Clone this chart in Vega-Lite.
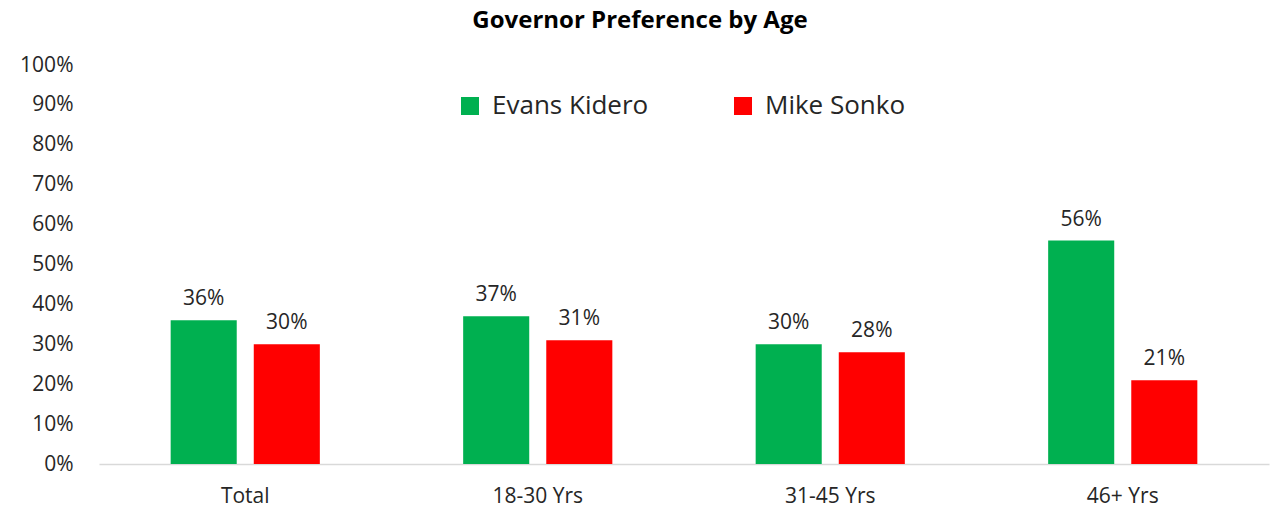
{
  "$schema": "https://vega.github.io/schema/vega-lite/v6.json",
  "autosize": "none",
  "width": 1170,
  "height": 399,
  "padding": {"left": 99, "top": 65, "right": 1, "bottom": 44},
  "background": "white",
  "config": {"view": {"stroke": null}, "font": "Open Sans"},
  "title": {
    "text": "Governor Preference by Age",
    "anchor": "middle",
    "frame": "group",
    "dx": -44,
    "fontSize": 24,
    "fontWeight": "bold",
    "font": "Open Sans",
    "color": "#000000",
    "offset": 21
  },
  "data": {
    "values": [
      {"age": "Total", "candidate": "Evans Kidero", "value": 0.36},
      {"age": "Total", "candidate": "Mike Sonko", "value": 0.30},
      {"age": "18-30 Yrs", "candidate": "Evans Kidero", "value": 0.37},
      {"age": "18-30 Yrs", "candidate": "Mike Sonko", "value": 0.31},
      {"age": "31-45 Yrs", "candidate": "Evans Kidero", "value": 0.30},
      {"age": "31-45 Yrs", "candidate": "Mike Sonko", "value": 0.28},
      {"age": "46+ Yrs", "candidate": "Evans Kidero", "value": 0.56},
      {"age": "46+ Yrs", "candidate": "Mike Sonko", "value": 0.21}
    ]
  },
  "encoding": {
    "x": {
      "field": "age",
      "type": "nominal",
      "sort": ["Total", "18-30 Yrs", "31-45 Yrs", "46+ Yrs"],
      "scale": {"paddingInner": 0.49, "paddingOuter": 0.245},
      "axis": {
        "title": null,
        "labelAngle": 0,
        "labelFontSize": 21,
        "labelColor": "#262626",
        "labelPadding": 21,
        "ticks": false,
        "domainColor": "#d9d9d9",
        "domainWidth": 1.5,
        "grid": false
      }
    },
    "xOffset": {
      "field": "candidate",
      "type": "nominal",
      "scale": {"paddingInner": 0.205, "paddingOuter": 0}
    },
    "y": {
      "field": "value",
      "type": "quantitative",
      "scale": {"domain": [0, 1], "nice": false},
      "axis": {
        "title": null,
        "format": ".0%",
        "values": [0, 0.1, 0.2, 0.3, 0.4, 0.5, 0.6, 0.7, 0.8, 0.9, 1],
        "labelFontSize": 21,
        "labelColor": "#262626",
        "labelPadding": 26,
        "ticks": false,
        "domain": false,
        "grid": false
      }
    }
  },
  "layer": [
    {
      "mark": {"type": "bar"},
      "encoding": {
        "color": {
          "field": "candidate",
          "type": "nominal",
          "scale": {"domain": ["Evans Kidero", "Mike Sonko"], "range": ["#00B050", "#FF0000"]},
          "legend": {
            "title": null,
            "orient": "none",
            "direction": "horizontal",
            "legendX": 358,
            "legendY": 28,
            "symbolType": "square",
            "symbolSize": 324,
            "symbolStrokeWidth": 0,
            "labelFontSize": 26,
            "labelColor": "#262626",
            "labelOffset": 9,
            "columnPadding": 81,
            "labelLimit": 300
          }
        }
      }
    },
    {
      "mark": {"type": "text", "baseline": "alphabetic", "dy": -15, "fontSize": 21, "color": "#262626"},
      "encoding": {
        "text": {"field": "value", "type": "quantitative", "format": ".0%"}
      }
    }
  ]
}
